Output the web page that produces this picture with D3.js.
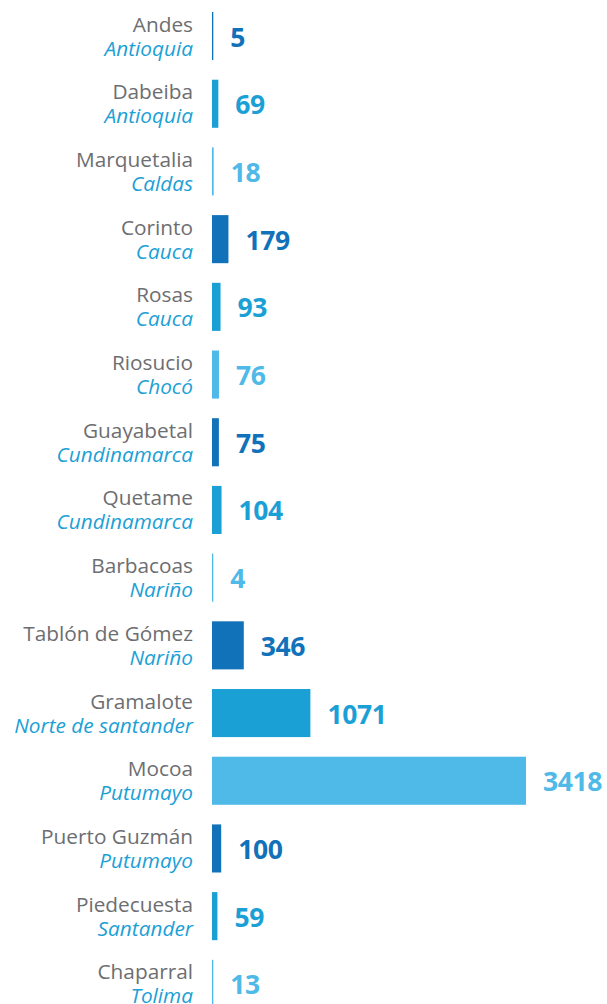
<!DOCTYPE html>
<html>
<head>
<meta charset="utf-8">
<script src="https://cdn.jsdelivr.net/npm/d3@7"></script>
<style>
  html, body { margin: 0; padding: 0; background: #ffffff; }
  svg { display: block; }
</style>
</head>
<body>
<svg id="chart" width="607" height="1004"></svg>
<script>
// Municipalities, their departments and the counts shown for each
const municipios = ["Andes", "Dabeiba", "Marquetalia", "Corinto", "Rosas", "Riosucio", "Guayabetal", "Quetame", "Barbacoas", "Tablón de Gómez", "Gramalote", "Mocoa", "Puerto Guzmán", "Piedecuesta", "Chaparral"];
const departamentos = ["Antioquia", "Antioquia", "Caldas", "Cauca", "Cauca", "Chocó", "Cundinamarca", "Cundinamarca", "Nariño", "Nariño", "Norte de santander", "Putumayo", "Putumayo", "Santander", "Tolima"];
const valores = [5, 69, 18, 179, 93, 76, 75, 104, 4, 346, 1071, 3418, 100, 59, 13];

const palette = ["#1172ba", "#1ba0d6", "#4fb9e8"];

const svg = d3.select("#chart");

const y = d3.scaleBand()
  .domain(d3.range(municipios.length))
  .range([2.2, 1017.7])
  .paddingInner(0.29)
  .paddingOuter(0.145);

const x = d3.scaleLinear()
  .domain([0, d3.max(valores)])
  .range([212, 526]);

const rows = svg.selectAll("g.row")
  .data(valores)
  .join("g")
  .attr("class", "row")
  .attr("transform", (d, i) => `translate(0,${y(i)})`);

const bh = y.bandwidth();

rows.append("rect")
  .attr("x", x(0))
  .attr("y", 0)
  .attr("width", d => Math.max(1.3, x(d) - x(0)))
  .attr("height", bh)
  .attr("fill", (d, i) => palette[i % 3]);

rows.append("text")
  .attr("x", d => Math.max(x(0) + 1.3, x(d)) + 17)
  .attr("y", bh / 2 + 10.5)
  .attr("font-family", "'Open Sans', sans-serif")
  .attr("font-weight", 700)
  .attr("font-size", 26.5)
  .attr("letter-spacing", -0.4)
  .attr("fill", (d, i) => palette[i % 3])
  .text(d => d);

rows.append("text")
  .attr("x", 193)
  .attr("y", bh / 2 - 4.5)
  .attr("text-anchor", "end")
  .attr("font-family", "'Open Sans', sans-serif")
  .attr("font-size", 20.8)
  .attr("fill", "#6d6e71")
  .text((d, i) => municipios[i]);

rows.append("text")
  .attr("x", 193)
  .attr("y", bh / 2 + 19.5)
  .attr("text-anchor", "end")
  .attr("font-family", "'Open Sans', sans-serif")
  .attr("font-style", "italic")
  .attr("font-size", 20.8)
  .attr("fill", "#1ba0d6")
  .text((d, i) => departamentos[i]);
</script>
</body>
</html>
